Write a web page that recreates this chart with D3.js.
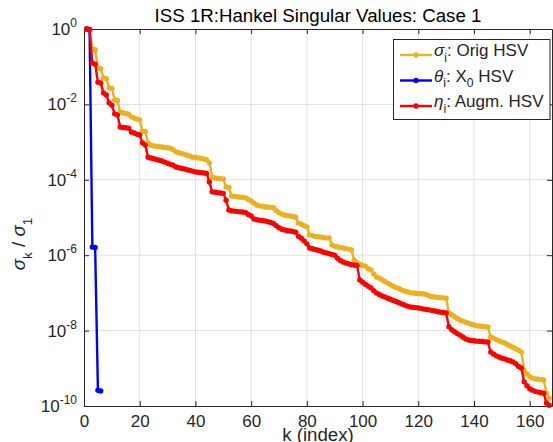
<!DOCTYPE html>
<meta charset="utf-8">
<style>

body {
  margin: 0;
  background: #fff;
}

text {
  font-family: "Liberation Sans", Arial, Helvetica, sans-serif;
  fill: #262626;
}

.grid line {
  stroke: #dfdfdf;
  stroke-width: 1px;
}

.axis path, .axis line {
  stroke: #262626;
  stroke-width: 1px;
}

</style>
<svg></svg>
<script src="https://d3js.org/d3.v7.min.js"></script>
<script>

var width = 553,
    height = 442;

// tick values and labels
var xTicks = [0, 20, 40, 60, 80, 100, 120, 140, 160];
var yTicks = [1, 1e-2, 1e-4, 1e-6, 1e-8, 1e-10];
var yTickExp = ["0", "-2", "-4", "-6", "-8", "-10"];

// sigma_i : original Hankel singular values (normalised), k = 1..167
var sigmaHSV = [
  1, 9.55e-1, 2.95e-1, 2.82e-1, 9.33e-2, 8.91e-2, 5.01e-2, 4.79e-2, 2.75e-2, 2.63e-2,
  1.32e-2, 1.26e-2, 6.31e-3, 6.03e-3, 5.75e-3, 5.50e-3, 4.68e-3, 4.37e-3, 4.07e-3, 3.89e-3,
  1.95e-3, 1.91e-3, 9.55e-4, 8.32e-4, 7.94e-4, 7.76e-4, 7.59e-4, 7.41e-4, 7.24e-4, 7.08e-4,
  6.92e-4, 6.31e-4, 5.50e-4, 5.25e-4, 5.01e-4, 4.79e-4, 4.47e-4, 4.27e-4, 3.98e-4, 3.89e-4,
  3.80e-4, 3.72e-4, 3.55e-4, 3.39e-4, 2.82e-4, 1.17e-4, 1.12e-4, 1.10e-4, 1.07e-4, 1.05e-4,
  6.46e-5, 6.31e-5, 3.72e-5, 3.63e-5, 3.55e-5, 3.47e-5, 3.39e-5, 3.31e-5, 3.02e-5, 2.75e-5,
  2.40e-5, 2.14e-5, 2.04e-5, 2.00e-5, 1.91e-5, 1.90e-5, 1.86e-5, 1.82e-5, 1.51e-5, 1.35e-5,
  1.23e-5, 1.17e-5, 1.12e-5, 1.10e-5, 1.07e-5, 1.02e-5, 7.08e-6, 6.61e-6, 6.03e-6, 5.62e-6,
  3.47e-6, 3.31e-6, 3.16e-6, 3.09e-6, 3.02e-6, 2.95e-6, 2.88e-6, 2.86e-6, 1.86e-6, 1.74e-6,
  1.66e-6, 1.58e-6, 1.55e-6, 1.48e-6, 1.45e-6, 1.38e-6, 7.41e-7, 6.31e-7, 5.75e-7, 5.37e-7,
  5.13e-7, 4.37e-7, 4.07e-7, 3.16e-7, 2.63e-7, 2.45e-7, 2.24e-7, 2.00e-7, 1.82e-7, 1.66e-7,
  1.51e-7, 1.38e-7, 1.32e-7, 1.20e-7, 1.12e-7, 1.07e-7, 1.02e-7, 1.00e-7, 9.77e-8, 9.55e-8,
  9.50e-8, 9.33e-8, 8.91e-8, 8.32e-8, 7.94e-8, 7.76e-8, 7.59e-8, 7.41e-8, 7.38e-8, 7.24e-8,
  2.95e-8, 2.63e-8, 2.34e-8, 2.09e-8, 1.91e-8, 1.78e-8, 1.66e-8, 1.58e-8, 1.48e-8, 1.41e-8,
  1.35e-8, 1.32e-8, 1.29e-8, 1.26e-8, 1.23e-8, 6.76e-9, 6.31e-9, 5.75e-9, 5.37e-9, 5.01e-9,
  4.68e-9, 4.27e-9, 3.89e-9, 3.63e-9, 3.31e-9, 3.02e-9, 2.69e-9, 8.91e-10, 7.08e-10, 6.03e-10,
  5.50e-10, 5.25e-10, 5.13e-10, 5.01e-10, 4.90e-10, 2.19e-10, 1.62e-10
];

// theta_i : X0 Hankel singular values
var thetaHSV = [1, 9.8e-1, 1.65e-6, 1.6e-6, 2.6e-10, 2.5e-10];

// eta_i : augmented Hankel singular values
var etaHSV = [
  1, 9.55e-1, 1.26e-1, 1.17e-1, 3.89e-2, 3.72e-2, 2.00e-2, 1.78e-2, 1.10e-2, 9.55e-3,
  5.62e-3, 5.25e-3, 2.51e-3, 2.45e-3, 2.40e-3, 2.34e-3, 1.86e-3, 1.74e-3, 1.62e-3, 1.55e-3,
  9.55e-4, 8.32e-4, 3.98e-4, 3.80e-4, 3.63e-4, 3.47e-4, 3.31e-4, 3.16e-4, 2.95e-4, 2.75e-4,
  2.57e-4, 2.45e-4, 2.19e-4, 2.09e-4, 2.00e-4, 1.95e-4, 1.86e-4, 1.78e-4, 1.70e-4, 1.62e-4,
  1.58e-4, 1.55e-4, 1.51e-4, 1.48e-4, 8.71e-5, 4.79e-5, 4.68e-5, 4.57e-5, 4.47e-5, 4.37e-5,
  2.88e-5, 1.58e-5, 1.51e-5, 1.48e-5, 1.45e-5, 1.41e-5, 1.40e-5, 1.35e-5, 1.20e-5, 1.10e-5,
  9.12e-6, 8.71e-6, 8.51e-6, 8.32e-6, 8.13e-6, 7.76e-6, 7.41e-6, 6.92e-6, 6.03e-6, 5.37e-6,
  4.90e-6, 4.68e-6, 4.47e-6, 4.37e-6, 4.27e-6, 4.07e-6, 3.16e-6, 2.82e-6, 2.40e-6, 2.00e-6,
  1.55e-6, 1.48e-6, 1.41e-6, 1.35e-6, 1.29e-6, 1.20e-6, 1.15e-6, 1.10e-6, 1.05e-6, 1.00e-6,
  8.32e-7, 7.24e-7, 6.61e-7, 6.17e-7, 5.89e-7, 5.62e-7, 5.50e-7, 5.37e-7, 2.19e-7, 1.91e-7,
  1.70e-7, 1.51e-7, 1.35e-7, 1.15e-7, 1.00e-7, 9.12e-8, 8.32e-8, 7.76e-8, 7.24e-8, 6.76e-8,
  6.31e-8, 5.89e-8, 5.50e-8, 5.13e-8, 4.79e-8, 4.47e-8, 4.27e-8, 4.17e-8, 4.07e-8, 3.98e-8,
  3.89e-8, 3.72e-8, 3.63e-8, 3.55e-8, 3.39e-8, 3.31e-8, 3.16e-8, 3.09e-8, 3.02e-8, 2.95e-8,
  1.26e-8, 1.05e-8, 9.33e-9, 8.32e-9, 7.59e-9, 6.76e-9, 6.03e-9, 5.62e-9, 5.50e-9, 5.37e-9,
  5.25e-9, 5.20e-9, 5.13e-9, 5.01e-9, 4.98e-9, 2.69e-9, 2.40e-9, 2.14e-9, 2.00e-9, 1.86e-9,
  1.78e-9, 1.66e-9, 1.58e-9, 1.48e-9, 1.32e-9, 1.12e-9, 1.02e-9, 4.37e-10, 3.47e-10, 2.88e-10,
  2.63e-10, 2.45e-10, 2.34e-10, 2.24e-10, 2.19e-10, 1.20e-10, 1.05e-10
];

var series = [
  {name: "sigma", values: sigmaHSV, color: "#EDB120"},
  {name: "theta", values: thetaHSV, color: "#0000FF"},
  {name: "eta",   values: etaHSV,   color: "#FF0000"}
];

var x = d3.scaleLinear()
    .domain([0, 168])
    .range([84, 552]);

var y = d3.scaleLog()
    .domain([1e-10, 1])
    .range([406, 29]);

var svg = d3.select("svg")
    .attr("width", width)
    .attr("height", height);

// grid
var grid = svg.append("g").attr("class", "grid");

grid.selectAll(".vx")
    .data(xTicks.slice(1))
    .enter().append("line")
    .attr("x1", function(d) { return x(d); })
    .attr("x2", function(d) { return x(d); })
    .attr("y1", y.range()[0])
    .attr("y2", y.range()[1]);

grid.selectAll(".hy")
    .data(yTicks.slice(1, -1))
    .enter().append("line")
    .attr("x1", x.range()[0])
    .attr("x2", x.range()[1])
    .attr("y1", function(d) { return y(d); })
    .attr("y2", function(d) { return y(d); });

// axes (ticks inside, box on)
svg.append("g")
    .attr("class", "axis")
    .attr("transform", "translate(0," + y.range()[0] + ")")
    .call(d3.axisBottom(x).tickValues(xTicks).tickSizeInner(-5).tickSizeOuter(0).tickPadding(8.5))
    .call(function(g) {
      g.selectAll("text").style("font-size", "17px").attr("fill", "#262626");
    });

svg.append("g")
    .attr("class", "axis")
    .attr("transform", "translate(0," + y.range()[1] + ")")
    .call(d3.axisTop(x).tickValues(xTicks).tickSizeInner(-5).tickSizeOuter(0).tickFormat(""));

svg.append("g")
    .attr("class", "axis")
    .attr("transform", "translate(" + x.range()[0] + ",0)")
    .call(d3.axisLeft(y).tickValues(yTicks).tickSizeInner(-5).tickSizeOuter(0).tickFormat(""));

svg.append("g")
    .attr("class", "axis")
    .attr("transform", "translate(" + x.range()[1] + ",0)")
    .call(d3.axisRight(y).tickValues(yTicks).tickSizeInner(-5).tickSizeOuter(0).tickFormat(""));

// y tick labels 10^n
var ylab = svg.append("g");
yTicks.forEach(function(v, i) {
  var t = ylab.append("text")
      .attr("x", x.range()[0] - 7)
      .attr("y", y(v) + 6)
      .attr("text-anchor", "end")
      .style("font-size", "17px");
  t.append("tspan").text("10");
  t.append("tspan")
      .attr("dy", -8)
      .style("font-size", "12px")
      .text(yTickExp[i]);
});

// series
var line = d3.line()
    .x(function(d, i) { return x(i + 1); })
    .y(function(d) { return y(d); });

var plot = svg.append("g");

series.forEach(function(s) {
  var g = plot.append("g");
  g.append("path")
      .datum(s.values)
      .attr("d", line)
      .attr("fill", "none")
      .attr("stroke", s.color)
      .attr("stroke-width", 2.4)
      .attr("stroke-linejoin", "round");
  g.selectAll("circle")
      .data(s.values)
      .enter().append("circle")
      .attr("cx", function(d, i) { return x(i + 1); })
      .attr("cy", function(d) { return y(d); })
      .attr("r", 2.7)
      .attr("fill", s.color);
});

// helper for tex-like text: parts = [[text, kind]] where kind = "it" | "sub" | ""
function texText(t, parts, size) {
  var shift = 0;
  parts.forEach(function(p) {
    var sp = t.append("tspan").text(p[0]);
    var want = 0;
    if (p[1] == "sub") {
      want = size * 0.35;
      sp.style("font-size", (size * 0.72) + "px");
    }
    if (p[1] == "it") sp.style("font-style", "italic");
    if (want != shift) {
      sp.attr("dy", want - shift);
      shift = want;
    }
  });
}

// title
svg.append("text")
    .attr("x", (x.range()[0] + x.range()[1]) / 2)
    .attr("y", 22)
    .attr("text-anchor", "middle")
    .style("font-size", "18.7px")
    .style("fill", "#000")
    .text("ISS 1R:Hankel Singular Values: Case 1");

// x label
svg.append("text")
    .attr("x", (x.range()[0] + x.range()[1]) / 2)
    .attr("y", 441)
    .attr("text-anchor", "middle")
    .style("font-size", "18.7px")
    .text("k (index)");

// y label
var yl = svg.append("text")
    .attr("transform", "translate(25,244) rotate(-90)")
    .attr("text-anchor", "middle")
    .style("font-size", "18.7px");
texText(yl, [["σ", "it"], ["k", "sub"], [" / ", ""], ["σ", "it"], ["1", "sub"]], 18.7);

// legend
var legendItems = [
  {color: "#EDB120", parts: [["σ", "it"], ["i", "sub"], [": Orig HSV", ""]]},
  {color: "#0000FF", parts: [["θ", "it"], ["i", "sub"], [": X", ""], ["0", "sub"], [" HSV", ""]]},
  {color: "#FF0000", parts: [["η", "it"], ["i", "sub"], [": Augm. HSV", ""]]}
];

var legend = svg.append("g");
legend.append("rect")
    .attr("x", 393.5)
    .attr("y", 39.5)
    .attr("width", 156.5)
    .attr("height", 80)
    .attr("fill", "#fff")
    .attr("stroke", "#262626")
    .attr("stroke-width", 1);

legendItems.forEach(function(it, i) {
  var ly = 55 + i * 25.5;
  legend.append("line")
      .attr("x1", 400).attr("x2", 432)
      .attr("y1", ly).attr("y2", ly)
      .attr("stroke", it.color)
      .attr("stroke-width", 2.4);
  legend.append("circle")
      .attr("cx", 416).attr("cy", ly)
      .attr("r", 2.7)
      .attr("fill", it.color);
  var t = legend.append("text")
      .attr("x", 434)
      .attr("y", ly + 1)
      .style("font-size", "17px");
  texText(t, it.parts, 17);
});

</script>
